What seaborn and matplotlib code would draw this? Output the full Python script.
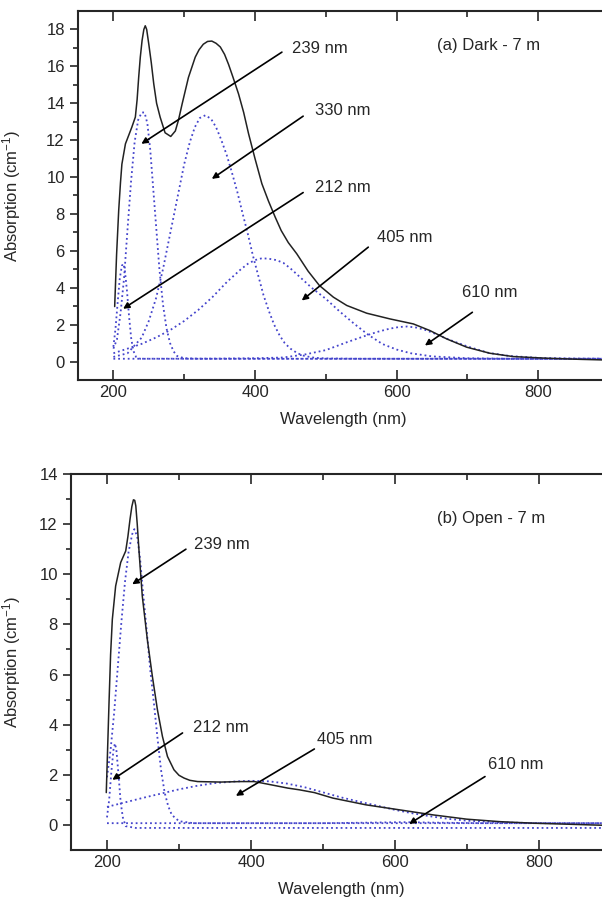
import matplotlib
matplotlib.use("Agg")
import matplotlib.pyplot as plt
import seaborn as sns
import pandas as pd

# ---------------- data: panel (a) Dark - 7 m ----------------
a_total_x = [201.8, 204.5, 207.5, 210, 212, 217, 222, 226, 231, 233.5, 235.7, 238, 240.5, 243, 245,
             247, 250, 253.5, 257, 261, 266, 273, 281, 287.5, 292, 297, 306, 315.6, 321, 327,
             333, 339, 345, 351, 357, 362.7, 369, 376.8, 384, 390.9, 400, 409.7, 419, 428.5,
             437, 447, 459, 475, 491, 510.7, 529.6, 557.8, 590.7, 623.6, 647, 670.6, 698.9,
             731.7, 764.6, 811.7, 858.7, 900]
a_total_y = [2.98, 5.8, 8.2, 9.7, 10.7, 11.8, 12.3, 12.7, 13.25, 14.2, 15.4, 16.5, 17.4, 18.0, 18.2,
             18.0, 17.2, 16.2, 15.05, 14.0, 13.25, 12.4, 12.2, 12.5, 13.1, 13.95, 15.4, 16.5,
             16.9, 17.2, 17.35, 17.37, 17.25, 17.05, 16.65, 16.1, 15.4, 14.5, 13.5, 12.35, 11.0,
             9.64, 8.7, 7.83, 7.1, 6.45, 5.84, 4.9, 4.12, 3.49, 3.04, 2.62, 2.31, 2.04, 1.68,
             1.23, 0.78, 0.45, 0.27, 0.18, 0.12, 0.08]

a_212_x = [200, 203, 206, 209, 212, 214, 216, 219, 222, 225, 228, 232, 238, 300, 600, 900]
a_212_y = [0.8, 1.8, 3.2, 4.5, 5.2, 5.3, 5.0, 3.9, 2.5, 1.3, 0.6, 0.25, 0.15, 0.15, 0.15, 0.15]

a_239_x = [200, 205, 210, 215, 220, 225, 230, 235, 240, 244, 248, 252, 256, 260, 265, 270, 275,
           280, 285, 290, 300, 320, 600, 900]
a_239_y = [0.7, 1.2, 2.6, 4.5, 7.2, 9.8, 11.9, 13.1, 13.5, 13.5, 12.9, 11.5, 9.5, 7.5, 5.0, 3.1,
           1.8, 1.0, 0.55, 0.3, 0.18, 0.15, 0.15, 0.15]

a_330_x = [200, 220, 240, 250, 260, 270, 280, 290, 300, 308, 315, 322, 330, 338, 345, 352, 360,
           367, 375, 382, 390, 397, 405, 412, 420, 427, 435, 442, 450, 460, 470, 485, 500, 550, 900]
a_330_y = [0.25, 0.45, 1.3, 2.2, 3.4, 5.0, 6.9, 8.8, 10.7, 11.9, 12.7, 13.2, 13.35, 13.15, 12.7,
           12.05, 11.2, 10.3, 9.2, 8.1, 6.9, 5.75, 4.6, 3.6, 2.7, 2.0, 1.4, 1.0, 0.7, 0.45, 0.3,
           0.2, 0.17, 0.15, 0.15]

a_405_x = [200, 220, 240, 260, 280, 300, 320, 340, 360, 380, 390, 400, 410, 420, 430, 440, 450,
           460, 480, 500, 520, 540, 560, 580, 600, 620, 650, 700, 760, 900]
a_405_y = [0.45, 0.7, 0.96, 1.3, 1.7, 2.2, 2.8, 3.5, 4.3, 5.0, 5.3, 5.5, 5.6, 5.57, 5.5, 5.35,
           5.05, 4.7, 4.0, 3.4, 2.7, 2.05, 1.45, 0.95, 0.65, 0.45, 0.28, 0.18, 0.15, 0.15]

a_610_x = [200, 350, 400, 440, 470, 500, 530, 560, 575, 590, 603, 615, 628, 640, 655, 670, 685,
           700, 730, 760, 800, 850, 900]
a_610_y = [0.15, 0.16, 0.18, 0.22, 0.38, 0.62, 1.05, 1.45, 1.63, 1.78, 1.87, 1.9, 1.84, 1.72,
           1.5, 1.25, 1.03, 0.82, 0.47, 0.3, 0.2, 0.16, 0.15]

# ---------------- data: panel (b) Open - 7 m ----------------
b_total_x = [199, 202.8, 205, 207.4, 212, 219, 226, 229, 232, 234.5, 236.7, 238.5, 240, 242,
             244.6, 249, 256, 263, 270, 277, 284, 293, 300, 307, 315, 325.8, 358, 386, 404.7,
             428, 451, 467.4, 488, 513.8, 560, 606.7, 653, 699.6, 746, 792, 838.8, 885, 900]
b_total_y = [1.29, 4.87, 6.8, 8.2, 9.53, 10.47, 10.93, 11.5, 12.2, 12.7, 12.97, 12.95, 12.73,
             12.0, 10.87, 9.13, 7.4, 5.93, 4.6, 3.53, 2.73, 2.2, 1.98, 1.87, 1.78, 1.73, 1.71,
             1.73, 1.73, 1.6, 1.47, 1.4, 1.29, 1.07, 0.8, 0.6, 0.4, 0.23, 0.13, 0.07, 0.03,
             -0.01, -0.01]

b_212_x = [200, 203, 206, 209, 211, 213, 216, 219, 222, 226, 240, 600, 900]
b_212_y = [0.3, 1.0, 2.1, 3.0, 3.25, 3.0, 2.0, 0.9, 0.3, -0.05, -0.12, -0.12, -0.12]

b_239_x = [200, 205, 210, 215, 220, 225, 230, 235, 238, 242, 246, 250, 255, 260, 265, 270, 275,
           280, 285, 290, 300, 320, 600, 900]
b_239_y = [1.9, 3.0, 4.5, 6.3, 8.1, 9.7, 10.9, 11.6, 11.8, 11.5, 10.6, 9.3, 7.8, 6.2, 4.9, 3.5,
           2.2, 1.3, 0.75, 0.4, 0.15, 0.07, 0.07, 0.07]

b_405_x = [200, 225, 250, 275, 300, 325, 350, 375, 400, 425, 450, 475, 500, 525, 550, 575, 600,
           625, 650, 675, 700, 750, 800, 900]
b_405_y = [0.72, 0.9, 1.08, 1.25, 1.42, 1.56, 1.67, 1.73, 1.76, 1.74, 1.65, 1.5, 1.3, 1.1, 0.93,
           0.77, 0.6, 0.46, 0.34, 0.24, 0.17, 0.1, 0.07, 0.06]

b_610_x = [200, 500, 560, 610, 660, 720, 900]
b_610_y = [0.07, 0.07, 0.09, 0.11, 0.09, 0.07, 0.07]

a_labels = ["239 nm", "330 nm", "212 nm", "405 nm", "610 nm"]
b_labels = ["239 nm", "212 nm", "405 nm", "610 nm"]

# ---------------- layout (annotation positions: text xy, arrow start, arrow tip) --------
a_annot = [((452, 16.95), (438, 16.77), (239.5, 11.8)),
           ((485, 13.6), (468, 13.3), (339, 9.9)),
           ((485, 9.44), (468, 9.16), (213.7, 2.86)),
           ((572, 6.74), (560, 6.2), (466, 3.31)),
           ((692, 3.76), (707, 2.67), (640, 0.87))]
b_annot = [((321, 11.2), (309.6, 11.0), (235, 9.6)),
           ((319, 3.87), (304.9, 3.67), (207.4, 1.8)),
           ((492, 3.4), (488, 3.03), (379, 1.16)),
           ((729, 2.4), (725, 1.93), (619.6, 0.04))]

sns.set_style("ticks")
plt.rcParams["font.family"] = ["Liberation Sans", "DejaVu Sans"]
plt.rcParams["mathtext.fontset"] = "custom"
plt.rcParams["mathtext.rm"] = "Liberation Sans"
plt.rcParams["mathtext.it"] = "Liberation Sans"

BLUE = "#4444cc"
fig = plt.figure(figsize=(6.02, 8.99), dpi=100)
axA = fig.add_axes([78 / 602, 1 - 380 / 899, 531 / 602, 369 / 899])
axB = fig.add_axes([71 / 602, 1 - 850 / 899, 540 / 602, 376 / 899])


def draw(ax, total, comps, annots, labels, title, ylim, yticks, ylabel_x):
    for cx, cy in comps:
        d = pd.DataFrame({"x": cx, "y": cy})
        sns.lineplot(data=d, x="x", y="y", ax=ax, color=BLUE, linestyle=":", lw=1.3,
                     sort=False, estimator=None)
    d = pd.DataFrame({"x": total[0], "y": total[1]})
    sns.lineplot(data=d, x="x", y="y", ax=ax, color="#222222", lw=1.1, sort=False,
                 estimator=None)
    for (txy, start, tip), lab in zip(annots, labels):
        ax.text(txy[0], txy[1], lab, ha="left", va="center", fontsize=12)
        ax.annotate("", xy=tip, xytext=start,
                    arrowprops=dict(arrowstyle="-|>", color="black", lw=1.2,
                                    mutation_scale=9, shrinkA=0, shrinkB=0))
    ax.text(title[0], title[1], title[2], ha="left", va="center", fontsize=12)
    ax.set_xlim(150, 900)
    ax.set_ylim(*ylim)
    ax.set_xticks([200, 400, 600, 800])
    ax.set_xticks([300, 500, 700], minor=True)
    ax.set_yticks(yticks)
    ax.set_yticks([v + 1 for v in yticks[:-1]], minor=True)
    ax.tick_params(axis="x", which="both", direction="in", top=True, labelsize=12)
    ax.tick_params(axis="x", which="major", length=7, width=1.2)
    ax.tick_params(axis="x", which="minor", length=4, width=1.2)
    ax.tick_params(axis="y", which="both", direction="out", right=True, labelsize=12)
    ax.tick_params(axis="y", which="major", length=6, width=1.2)
    ax.tick_params(axis="y", which="minor", length=3.5, width=1.2)
    for s in ax.spines.values():
        s.set_linewidth(1.5)
    ax.set_xlabel("Wavelength (nm)", fontsize=12, labelpad=9)
    ax.set_ylabel("Absorption (cm$^{-1}$)", fontsize=12)
    ax.yaxis.set_label_coords(ylabel_x, 0.5)


draw(axA, (a_total_x, a_total_y),
     [(a_212_x, a_212_y), (a_239_x, a_239_y), (a_330_x, a_330_y), (a_405_x, a_405_y),
      (a_610_x, a_610_y)],
     a_annot, a_labels, (657, 17.14, "(a) Dark - 7 m"), (-1, 19), list(range(0, 19, 2)), -0.1036)
draw(axB, (b_total_x, b_total_y),
     [(b_212_x, b_212_y), (b_239_x, b_239_y), (b_405_x, b_405_y), (b_610_x, b_610_y)],
     b_annot, b_labels, (658, 12.24, "(b) Open - 7 m"), (-1, 14), list(range(0, 15, 2)), -0.089)

fig.savefig("out.png", dpi=100)
